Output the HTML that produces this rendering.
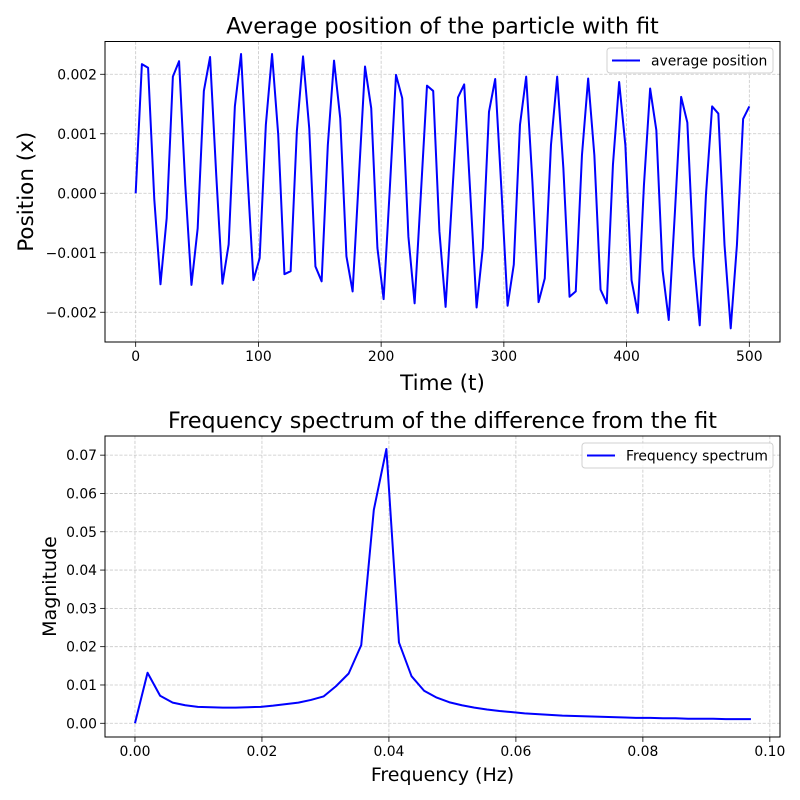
<!DOCTYPE html>
<html><head><meta charset="utf-8"><style>
body{margin:0;background:#fff}
svg{display:block;font-family:"DejaVu Sans","Liberation Sans",sans-serif}
</style></head><body>
<svg id="fig" width="800" height="800" viewBox="0 0 800 800"></svg>
<script>
const posT = [];
const posValues = [0,2.17,2.11,-0.1,-1.53,-0.42,1.96,2.22,0.14,-1.54,-0.59,1.72,2.29,0.3,-1.52,-0.86,1.46,2.34,0.36,-1.46,-1.09,1.15,2.34,0.98,-1.36,-1.31,1.04,2.3,1.09,-1.23,-1.48,0.81,2.23,1.26,-1.06,-1.65,0.25,2.13,1.43,-0.92,-1.78,0.08,1.99,1.6,-0.73,-1.85,-0.03,1.81,1.72,-0.64,-1.91,-0.15,1.61,1.83,-0.03,-1.92,-0.92,1.37,1.92,0.08,-1.89,-1.2,1.15,1.96,0.2,-1.83,-1.43,0.81,1.96,0.42,-1.74,-1.65,0.64,1.93,0.64,-1.62,-1.85,0.48,1.87,0.81,-1.46,-2.01,0.14,1.76,1.06,-1.29,-2.13,-0.31,1.62,1.19,-1.06,-2.22,-0.03,1.46,1.34,-0.87,-2.27,-0.87,1.25,1.46];
const posScale = 0.001;
const timeTicks = [0,100,200,300,400,500];
const posTicks = [-0.002,-0.001,0,0.001,0.002];
const posTickLabels = ["\u22120.002","\u22120.001","0.000","0.001","0.002"];
const specMag = [0,0.0132,0.0072,0.0054,0.0047,0.0043,0.0042,0.0041,0.0041,0.0042,0.0043,0.0046,0.0050,0.0054,0.0061,0.0070,0.0097,0.0130,0.0204,0.0557,0.0716,0.0211,0.0123,0.0085,0.0067,0.0055,0.0047,0.0041,0.0036,0.0032,0.0029,0.0026,0.0024,0.0022,0.0020,0.0019,0.0018,0.0017,0.0016,0.0015,0.0014,0.0014,0.0013,0.0013,0.0012,0.0012,0.0012,0.0011,0.0011,0.0011];
const freqStep = 1/(100*500/99);
const freqTicks = [0,0.02,0.04,0.06,0.08,0.10];
const freqTickLabels = ["0.00","0.02","0.04","0.06","0.08","0.10"];
const magTicks = [0,0.01,0.02,0.03,0.04,0.05,0.06,0.07];
const magTickLabels = ["0.00","0.01","0.02","0.03","0.04","0.05","0.06","0.07"];
for (let i=0;i<posValues.length;i++) posT.push(i*500/(posValues.length-1));
const specF = specMag.map((_,i)=>i*freqStep);

const NS="http://www.w3.org/2000/svg";
const svg=document.getElementById('fig');
function mk(tag,attrs,parent,text){const e=document.createElementNS(NS,tag);for(const k in attrs)e.setAttribute(k,attrs[k]);if(text!==undefined)e.textContent=text;(parent||svg).appendChild(e);return e;}

function drawAxes(o){
  const g=mk('g',{});
  
  
  const sx=v=>o.L+(v-o.x0)/(o.x1-o.x0)*(o.R-o.L);
  const sy=v=>o.B-(v-o.y0)/(o.y1-o.y0)*(o.B-o.T);
  o.xt.forEach((t,i)=>{const x=sx(t);
    const gl=mk('line',{x1:x,x2:x,y1:o.T,y2:o.B,stroke:'#b0b0b0','stroke-width':0.8,'stroke-dasharray':'3.2,1.6',opacity:0.7},g);
    
    
    mk('line',{x1:x,x2:x,y1:o.B,y2:o.B+4.9,stroke:'#000','stroke-width':0.8},g);
    const tl=mk('text',{x:x,y:o.B+19,'text-anchor':'middle','font-size':13.9},g,o.xl[i]);
    
    
  });
  o.yt.forEach((t,i)=>{const y=sy(t);
    const gl=mk('line',{x1:o.L,x2:o.R,y1:y,y2:y,stroke:'#b0b0b0','stroke-width':0.8,'stroke-dasharray':'3.2,1.6',opacity:0.7},g);
    
    
    mk('line',{x1:o.L-4.9,x2:o.L,y1:y,y2:y,stroke:'#000','stroke-width':0.8},g);
    const tl=mk('text',{x:o.L-8,y:y+5,'text-anchor':'end','font-size':13.9},g,o.yl[i]);
    
    
  });
  const d=o.xs.map((v,i)=>(i?'L':'M')+sx(v).toFixed(2)+','+sy(o.ys[i]).toFixed(2)).join(' ');
  const p=mk('path',{d:d,fill:'none',stroke:'#0000ff','stroke-width':2,'stroke-linejoin':'round'},g);
  
  
  const fr=mk('rect',{x:o.L,y:o.T,width:o.R-o.L,height:o.B-o.T,fill:'none',stroke:'#000','stroke-width':1},g);
  
  
  const ti=mk('text',{x:(o.L+o.R)/2,y:o.T-8,'text-anchor':'middle','font-size':o.titleSize},g,o.title);
  
  
  const xl=mk('text',{x:(o.L+o.R)/2,y:o.xlY,'text-anchor':'middle','font-size':o.lblSize},g,o.xlabel);
  
  
  const yl=mk('text',{x:0,y:0,'text-anchor':'middle','font-size':o.lblSize,transform:`translate(${o.ylX},${(o.T+o.B)/2}) rotate(-90)`},g,o.ylabel);
  
  
  const lg=mk('g',{},g);
  
  
  mk('rect',{x:o.lg[0],y:o.lg[1],width:o.lg[2],height:25,rx:3,fill:'#fff','fill-opacity':0.8,stroke:'#d0d0d0','stroke-width':1},lg);
  mk('line',{x1:o.lg[0]+5,x2:o.lg[0]+33,y1:o.lg[1]+12.5,y2:o.lg[1]+12.5,stroke:'#0000ff','stroke-width':2},lg);
  const lt=mk('text',{x:o.lg[0]+44,y:o.lg[1]+17.5,'font-size':13.9},lg,o.legend);
  
  
}

drawAxes({name:'position-chart',L:105,R:780,T:41.5,B:342,x0:-25,x1:525,y0:-0.0025,y1:0.002551,
  xt:timeTicks,xl:timeTicks.map(String),yt:posTicks,yl:posTickLabels,
  xs:posT,ys:posValues.map(v=>v*posScale),lineName:'average-position-line',
  title:'Average position of the particle with fit',titleSize:22.2,xlabel:'Time (t)',ylabel:'Position (x)',
  lblSize:21.5,xlY:390,ylX:33,lg:[607,48,166],legend:'average position'});
drawAxes({name:'spectrum-chart',L:105,R:780,T:436,B:737,x0:-0.00472,x1:0.1016,y0:-0.00358,y1:0.075,
  xt:freqTicks,xl:freqTickLabels,yt:magTicks,yl:magTickLabels,
  xs:specF,ys:specMag,lineName:'frequency-spectrum-line',
  title:'Frequency spectrum of the difference from the fit',titleSize:22.2,xlabel:'Frequency (Hz)',ylabel:'Magnitude',
  lblSize:19,xlY:781,ylX:56,lg:[582,443,191],legend:'Frequency spectrum'});
</script>
</body></html>
